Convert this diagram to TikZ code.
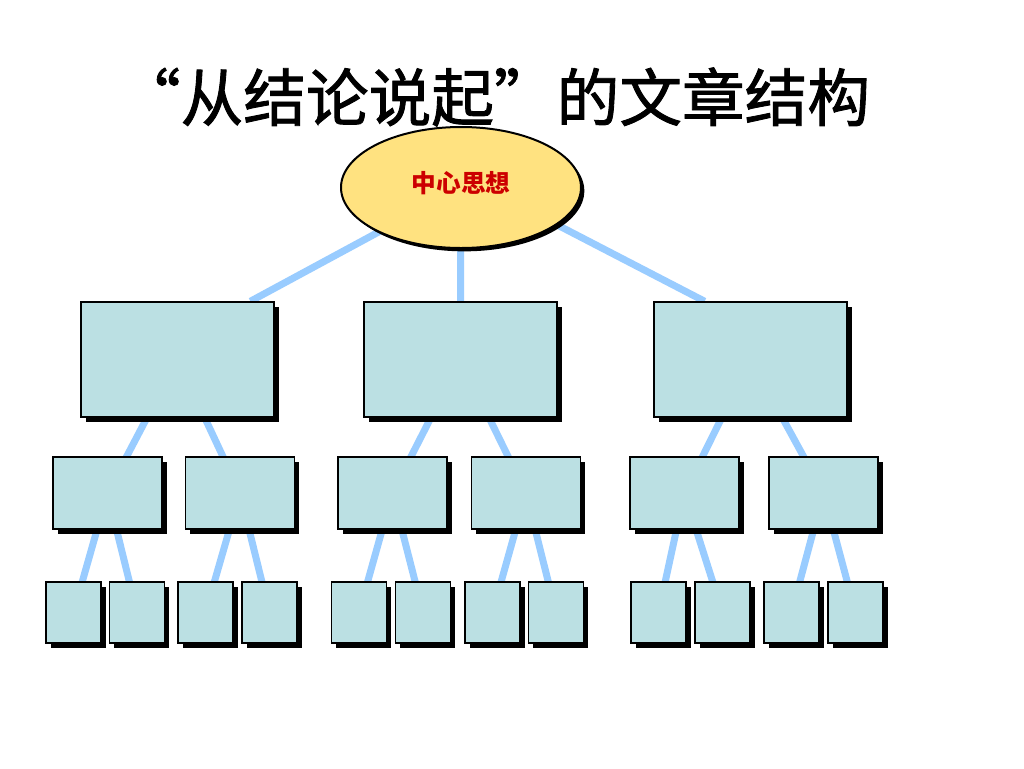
\documentclass[tikz,border=0pt]{standalone}
\usepackage{fontspec}
\newfontfamily\cjk{Noto Sans CJK SC}
\newfontfamily\cjkt[FakeBold=1.4]{Noto Sans CJK SC}
\usetikzlibrary{shadows,calc,shapes.geometric}
\pgfdeclarelayer{back}
\pgfdeclarelayer{bg}
\pgfsetlayers{back,bg,main}
\definecolor{boxfill}{RGB}{187,224,227}
\definecolor{linkblue}{RGB}{153,204,255}
\definecolor{ellfill}{RGB}{255,226,128}
\definecolor{txtred}{RGB}{204,0,0}
\tikzset{
  shad/.style={drop shadow={shadow xshift=3.5pt, shadow yshift=-3.5pt, opacity=1, fill=black}},
  boxA/.style={draw=black, line width=1.1pt, fill=boxfill, inner sep=0pt, shad},
  lvA/.style={boxA, minimum width=144.75pt, minimum height=86.25pt},
  lvB/.style={boxA, minimum width=81.75pt, minimum height=54pt},
  lvC/.style={boxA, minimum width=41.25pt, minimum height=45.75pt},
  link/.style={draw=linkblue, line width=5.25pt},
  ellnode/.style={ellipse, draw=black, line width=1.5pt, fill=ellfill, inner sep=0pt,
    minimum width=180pt, minimum height=90.75pt,
    drop shadow={shadow xshift=2.5pt, shadow yshift=-2.5pt, opacity=1, fill=black}}
}
\begin{document}
\begin{tikzpicture}[x=0.75pt, y=-0.75pt]
\begin{pgfonlayer}{back}
\fill[white] (0,0) rectangle (1024,768);
\end{pgfonlayer}
\useasboundingbox (0,0) rectangle (1024,768);
% title
\node[font=\cjkt\fontsize{47}{52}\selectfont, anchor=center] (title) at (494,97) {“从结论说起”的文章结构};
% central ellipse
\node[ellnode] (ell) at (461,187.5) {};
\node[font=\cjk\fontsize{18.5}{20}\selectfont\bfseries, text=txtred] (elltxt) at (461,183) {中心思想};
% level 1
\node[lvA] (b1) at (177.5,359.5) {};
\node[lvA] (b2) at (460.5,359.5) {};
\node[lvA] (b3) at (750.5,359.5) {};
% level 2
\node[lvB] (c1) at (107.5,493) {};
\node[lvB] (c2) at (240,493) {};
\node[lvB] (c3) at (392.5,493) {};
\node[lvB] (c4) at (526,493) {};
\node[lvB] (c5) at (684.5,493) {};
\node[lvB] (c6) at (823.5,493) {};
% level 3
\node[lvC] (d1) at (73.5,612.5) {};
\node[lvC] (d2) at (137,612.5) {};
\node[lvC] (d3) at (205.5,612.5) {};
\node[lvC] (d4) at (269.5,612.5) {};
\node[lvC] (d5) at (359,612.5) {};
\node[lvC] (d6) at (423,612.5) {};
\node[lvC] (d7) at (492.5,612.5) {};
\node[lvC] (d8) at (556,612.5) {};
\node[lvC] (d9) at (658.5,612.5) {};
\node[lvC] (d10) at (722.5,612.5) {};
\node[lvC] (d11) at (791.5,612.5) {};
\node[lvC] (d12) at (855.5,612.5) {};
\begin{pgfonlayer}{bg}
  \draw[link] (ell.center) -- ($(b1.north west)!0.875!(b1.north east)$);
  \draw[link] (ell.center) -- (b2.north);
  \draw[link] ($(ell.center)+(24,0)$) -- ($(b3.north west)!0.264!(b3.north east)$);
  \draw[link] (b1.center) -- (c1.center);
  \draw[link] (b1.center) -- (c2.center);
  \draw[link] (b2.center) -- (c3.center);
  \draw[link] (b2.center) -- (c4.center);
  \draw[link] (b3.center) -- (c5.center);
  \draw[link] (b3.center) -- (c6.center);
  \draw[link] (c1.center) -- (d1.center);
  \draw[link] (c1.center) -- (d2.center);
  \draw[link] (c2.center) -- (d3.center);
  \draw[link] (c2.center) -- (d4.center);
  \draw[link] (c3.center) -- (d5.center);
  \draw[link] (c3.center) -- (d6.center);
  \draw[link] (c4.center) -- (d7.center);
  \draw[link] (c4.center) -- (d8.center);
  \draw[link] (c5.center) -- (d9.center);
  \draw[link] (c5.center) -- (d10.center);
  \draw[link] (c6.center) -- (d11.center);
  \draw[link] (c6.center) -- (d12.center);
\end{pgfonlayer}
\end{tikzpicture}
\end{document}
